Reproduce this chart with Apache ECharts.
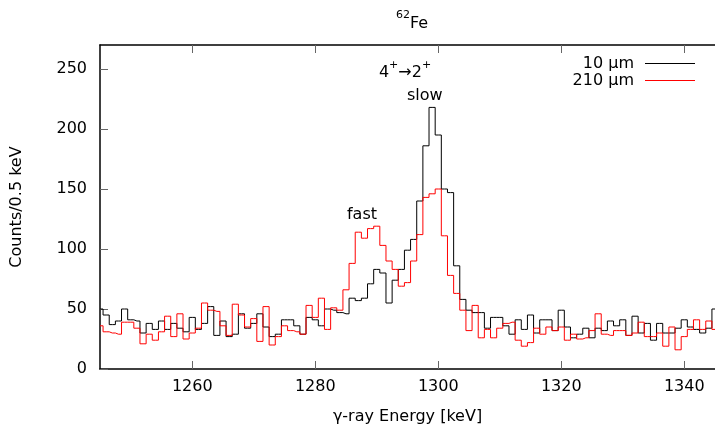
<!DOCTYPE html>
<html><head><meta charset="utf-8">
<script src="https://cdn.jsdelivr.net/npm/echarts@6/dist/echarts.min.js"></script>
<style>html,body{margin:0;padding:0;background:#fff}#c{width:715px;height:430px}</style>
</head><body><div id="c"></div>
<script>
// bin centres start at 1245 keV, 1 keV apart
const firstBin = 1245;
const binWidth = 1;
const xTicks = [1260, 1280, 1300, 1320, 1340];
const seriesNames = ['10 µm', '210 µm'];
const seriesColors = ['#000000', '#ff0000'];
const counts10 = [
  50, 45, 37, 40, 50, 41, 40, 30, 38, 33,   // 1245-1254
  40, 33, 38, 34, 31, 43, 33, 38, 52, 28,   // 1255-1264
  40, 27, 29, 46, 34, 38, 46, 35, 27, 29,   // 1265-1274
  41, 41, 36, 29, 43, 41, 36, 50, 49, 47,   // 1275-1284
  46, 59, 57, 59, 71, 83, 80, 55, 74, 83,   // 1285-1294
  99, 108, 140, 186, 218, 195, 150, 147, 86, 58, // 1295-1304
  49, 47, 47, 34, 43, 43, 36, 29, 41, 33,   // 1305-1314
  45, 30, 41, 41, 32, 49, 35, 26, 29, 34,   // 1315-1324
  26, 34, 32, 40, 36, 41, 28, 44, 30, 38,   // 1325-1334
  24, 38, 30, 30, 34, 41, 35, 33, 30, 34,   // 1335-1344
  50                                        // 1345
];
const counts210 = [
  36, 31, 30, 29, 39, 39, 34, 21, 29, 24,   // 1245-1254
  31, 44, 27, 46, 25, 30, 34, 55, 49, 48,   // 1255-1264
  36, 28, 54, 45, 35, 42, 23, 52, 20, 27,   // 1265-1274
  36, 32, 31, 29, 53, 43, 59, 33, 51, 49,   // 1275-1284
  66, 88, 114, 109, 117, 119, 103, 90, 83, 69, // 1285-1294
  72, 90, 112, 143, 146, 150, 111, 78, 63, 49, // 1295-1304
  32, 53, 26, 33, 26, 34, 38, 39, 24, 19,   // 1305-1314
  22, 34, 29, 35, 32, 35, 24, 29, 25, 26,   // 1315-1324
  32, 46, 29, 28, 32, 32, 28, 30, 39, 27,   // 1325-1334
  27, 30, 19, 35, 16, 27, 33, 41, 33, 40,   // 1335-1344
  33                                        // 1345
];
const annotations = [
  { text: '{n|4}{s|+}{n|→2}{s|+}', energy: 1294.6, count: 249 },
  { text: '{n|slow}', energy: 1297.8, count: 230 },
  { text: '{n|fast}', energy: 1287.6, count: 131 }
];

const FONT = 'DejaVu Sans';
const toPairs = arr => arr.map((v, i) => [firstBin + i * binWidth, v]);
const rich = {
  n: { fontFamily: FONT, fontSize: 16, fontWeight: 'normal', color: '#000', lineHeight: 22, verticalAlign: 'bottom' },
  s: { fontFamily: FONT, fontSize: 11, fontWeight: 'normal', color: '#000', lineHeight: 11, verticalAlign: 'top' }
};

const chart = echarts.init(document.getElementById('c'), null, { renderer: 'canvas' });
chart.setOption({
  animation: false,
  backgroundColor: '#fff',
  title: {
    text: '{s|62}{n|Fe}',
    left: 407, top: 5, textAlign: 'center',
    textStyle: { fontWeight: 'normal', color: '#000', rich: rich }
  },
  legend: {
    data: seriesNames.map((n, i) => ({ name: n, icon: 'rect', itemStyle: { color: seriesColors[i], borderWidth: 0 } })),
    orient: 'vertical', right: 15, top: 50, align: 'right',
    itemWidth: 50, itemHeight: 1, itemGap: 0,
    textStyle: { fontFamily: FONT, fontSize: 16, color: '#000', lineHeight: 17, padding: [0, 6, 0, 0] }
  },
  grid: { left: 100, right: -2, top: 45, bottom: 57, containLabel: false },
  xAxis: [{
    type: 'value', min: 1245, max: 1345,
    name: 'γ-ray Energy [keV]', nameLocation: 'middle', nameGap: 40,
    nameTextStyle: { fontFamily: FONT, fontSize: 16, color: '#000' },
    axisLine: { show: true, lineStyle: { color: '#000', width: 1.5 } },
    axisTick: { show: true, inside: true, length: 8, customValues: xTicks, lineStyle: { color: '#666' } },
    axisLabel: { customValues: xTicks, formatter: v => String(v), margin: 10, fontFamily: FONT, fontSize: 16, color: '#000' },
    splitLine: { show: false }
  }, {
    type: 'value', min: 1245, max: 1345, position: 'top',
    axisLine: { show: true, lineStyle: { color: '#000', width: 1.5 } },
    axisTick: { show: true, inside: true, length: 8, customValues: xTicks, lineStyle: { color: '#666' } },
    axisLabel: { show: false },
    splitLine: { show: false }
  }],
  yAxis: {
    type: 'value', min: 0, max: 270, interval: 50,
    name: 'Counts/0.5 keV', nameLocation: 'middle', nameGap: 75, nameRotate: 90,
    nameTextStyle: { fontFamily: FONT, fontSize: 16, color: '#000' },
    axisLine: { show: true, lineStyle: { color: '#000', width: 1.5 } },
    axisTick: { show: true, inside: true, length: 8, lineStyle: { color: '#666' } },
    axisLabel: { margin: 13, fontFamily: FONT, fontSize: 16, color: '#000', showMaxLabel: false },
    splitLine: { show: false }
  },
  series: [{
    name: seriesNames[0], type: 'line', step: 'middle', showSymbol: false, symbol: 'none',
    data: toPairs(counts10), clip: true,
    lineStyle: { color: seriesColors[0], width: 1 }, itemStyle: { color: seriesColors[0] }
  }, {
    name: seriesNames[1], type: 'line', step: 'middle', showSymbol: false, symbol: 'none',
    data: toPairs(counts210), clip: true,
    lineStyle: { color: seriesColors[1], width: 1 }, itemStyle: { color: seriesColors[1] }
  }, {
    name: 'labels', type: 'scatter', symbolSize: 0, silent: true,
    itemStyle: { opacity: 1, color: '#000' },
    data: annotations.map(a => ({ value: [a.energy, a.count], label: { formatter: a.text } })),
    label: { show: true, position: 'inside', color: '#000', opacity: 1, rich: rich }
  }]
});
</script></body></html>
